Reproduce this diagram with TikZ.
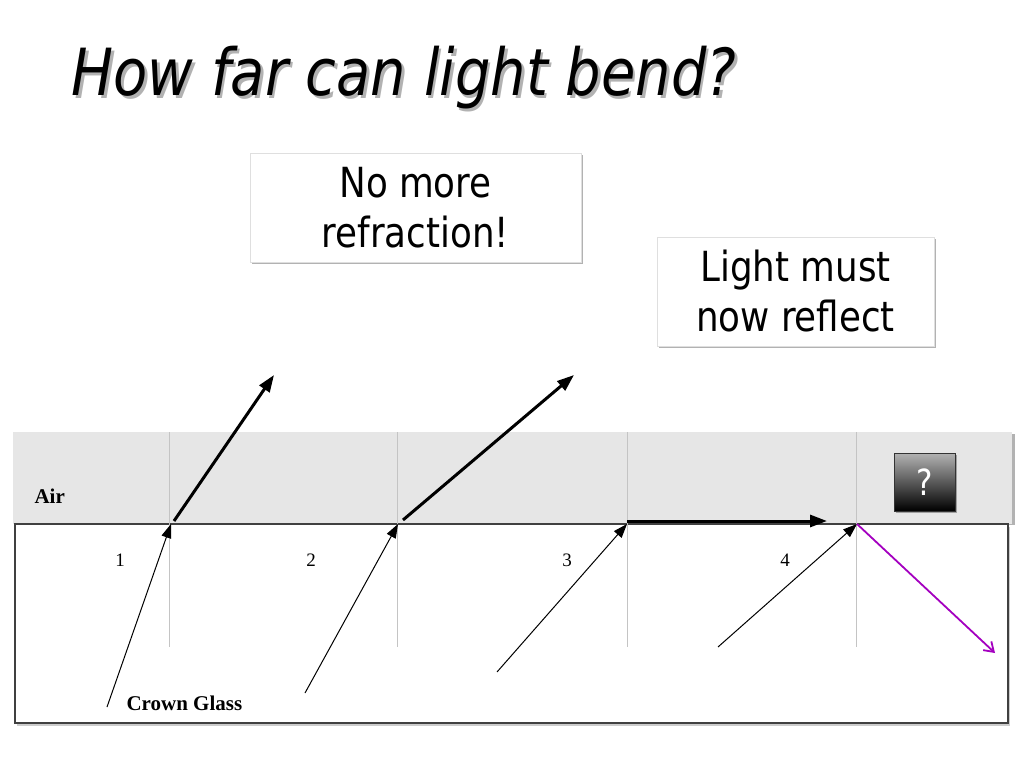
\documentclass[tikz,border=0pt]{standalone}
\usepackage{fontspec}
\usepackage{tikz}
\usetikzlibrary{arrows.meta, positioning, shadows.blur}
\newfontfamily\slidefont[FakeStretch=0.86]{DejaVu Sans}
\newfontfamily\tablefont{Liberation Serif}
\definecolor{airgray}{HTML}{E6E6E6}
\definecolor{rulegray}{HTML}{C4C4C4}
\definecolor{raypurple}{HTML}{A400C0}
\tikzset{
  callout/.style={
    rectangle, draw=gray!25, fill=white, align=center,
    font=\slidefont\fontsize{41.5}{50}\selectfont,
    inner sep=0pt,
    drop shadow={shadow xshift=1.5pt,shadow yshift=-2pt,opacity=0.3,fill=black}
  },
  medium/.style={font=\tablefont\bfseries\fontsize{21}{24}\selectfont, anchor=base west},
  ray/.style={font=\tablefont\fontsize{19}{20}\selectfont, anchor=base},
  incident/.style={-{Triangle[length=14pt,width=10pt]}, line width=1pt},
  refracted/.style={-{Triangle[length=17pt,width=12pt]}, line width=3pt},
  reflected/.style={-{Straight Barb[length=9pt,width=12pt]}, line width=1.8pt, color=raypurple}
}

\begin{document}
\begin{tikzpicture}[x=1pt, y=-1pt]
\useasboundingbox (0,0) rectangle (1023,767);

% Title
\node[anchor=base west, text=gray!60, font=\slidefont\itshape\fontsize{65}{65}\selectfont] at (70.5,98.5) {How far can light bend?};
\node[anchor=base west, font=\slidefont\itshape\fontsize{65}{65}\selectfont] (title) at (68,96) {How far can light bend?};

% Air and glass
\fill[gray!60] (15,434) rectangle (1015,525);
\fill[airgray] (13,432) rectangle (1012,524);
\fill[gray!40] (17,527) rectangle (1010,726);
\draw[fill=white, draw=black!75, line width=1.6pt] (15,524) rectangle (1008,723);
\foreach \x in {169,397,627,856}
  \draw[rulegray, line width=0.8pt] (\x,432) -- (\x,647);

\node[medium] (air) at (31,503) {Air};
\node[medium] (glass) at (123,710) {Crown Glass};
\node[ray] (n1) at (120,566) {1};
\node[ray] (n2) at (311,566) {2};
\node[ray] (n3) at (567,566) {3};
\node[ray] (n4) at (785,566) {4};

% Points on the rays
\coordinate (s1) at (107,707);
\coordinate (h1) at (171,524);
\coordinate (t1) at (274,375);
\coordinate (s2) at (305,693);
\coordinate (h2) at (398,524);
\coordinate (t2) at (574,375);
\coordinate (s3) at (497,672);
\coordinate (h3) at (627,524);
\coordinate (t3) at (827,521);
\coordinate (s4) at (718,647);
\coordinate (h4) at (857,524);
\coordinate (t4) at (995,653);

% Incident rays
\draw[incident] (s1) -- (h1);
\draw[incident] (s2) -- (h2);
\draw[incident] (s3) -- (h3);
\draw[incident] (s4) -- (h4);

% Refracted rays
\draw[refracted] (174,521) -- (t1);
\draw[refracted] (403,520) -- (t2);
\draw[refracted] (627,521) -- (t3);

% Reflected ray
\draw[reflected] (h4) -- (t4);

% Question box
\node[rectangle, draw=black!80, minimum width=61pt, minimum height=58pt,
      top color=gray!60, bottom color=black, text=white, inner sep=0pt,
      font=\slidefont\fontsize{36}{36}\selectfont,
      drop shadow={shadow xshift=1.5pt,shadow yshift=-2pt,opacity=0.3,fill=black}]
      (query) at (925,482) {?};

% Callouts
\node[callout, minimum width=331pt, minimum height=109pt] (norefr) at (415.5,207.5) {No more\\refraction!};
\node[callout, minimum width=277pt, minimum height=109pt] (mustrefl) at (795.5,291.5) {Light must\\now reflect};

\end{tikzpicture}
\end{document}
